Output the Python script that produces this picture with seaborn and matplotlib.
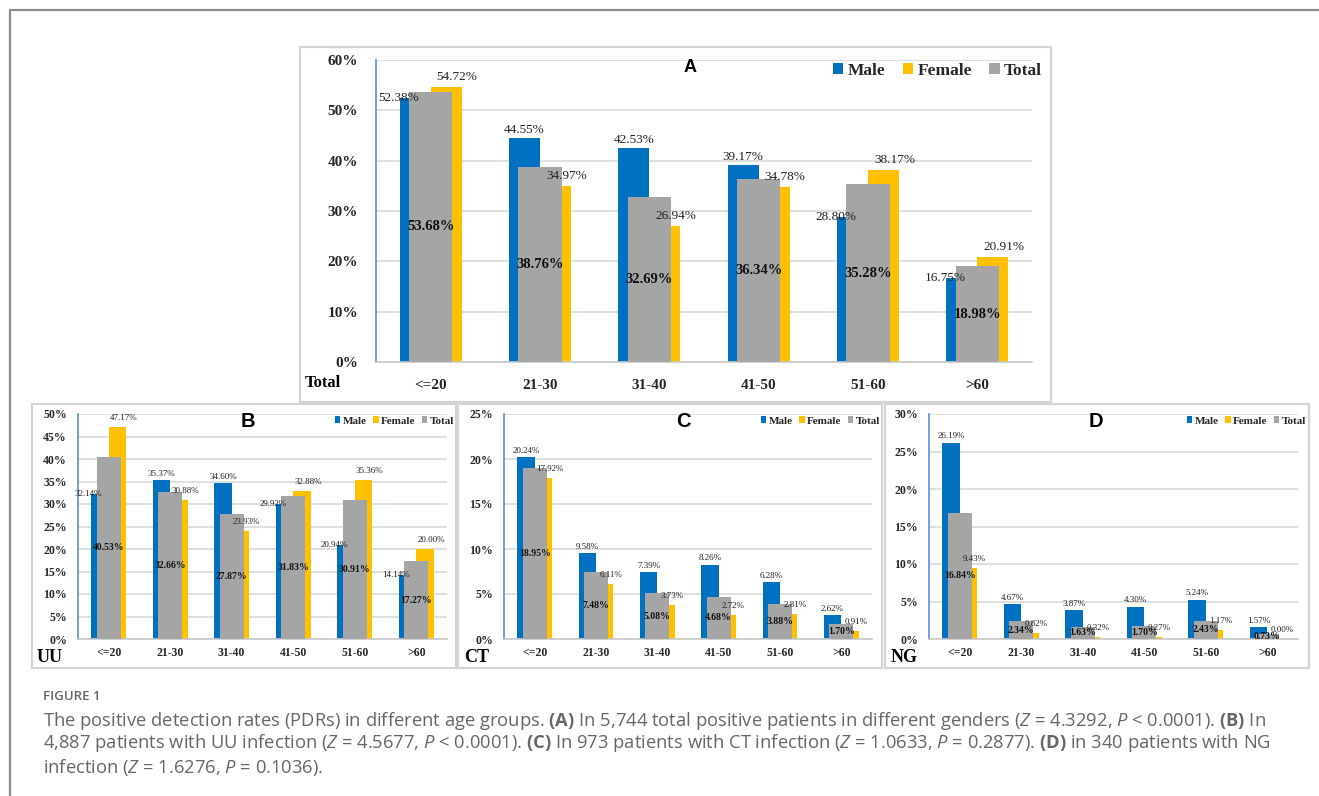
import matplotlib
matplotlib.use("Agg")
import matplotlib.pyplot as plt
from matplotlib.patches import Rectangle, Patch
from matplotlib.ticker import FuncFormatter
import pandas as pd
import seaborn as sns

# ---------------- data ----------------
age_groups = ["<=20", "21-30", "31-40", "41-50", "51-60", ">60"]

total_male = [52.38, 44.55, 42.53, 39.17, 28.80, 16.75]
total_female = [54.72, 34.97, 26.94, 34.78, 38.17, 20.91]
total_total = [53.68, 38.76, 32.69, 36.34, 35.28, 18.98]

uu_male = [32.14, 35.37, 34.60, 29.92, 20.94, 14.14]
uu_female = [47.17, 30.88, 23.93, 32.88, 35.36, 20.00]
uu_total = [40.53, 32.66, 27.87, 31.83, 30.91, 17.27]

ct_male = [20.24, 9.58, 7.39, 8.26, 6.28, 2.62]
ct_female = [17.92, 6.11, 3.73, 2.72, 2.81, 0.91]
ct_total = [18.95, 7.48, 5.08, 4.68, 3.88, 1.70]

ng_male = [26.19, 4.67, 3.87, 4.30, 5.24, 1.57]
ng_female = [9.43, 0.82, 0.32, 0.27, 1.17, 0.00]
ng_total = [16.84, 2.34, 1.63, 1.70, 2.43, 0.73]

series_names = ["Male", "Female", "Total"]

caption_title = "FIGURE 1"

# ---------------- style ----------------
sns.set_theme(style="white")
plt.rcParams["font.family"] = ["Liberation Serif", "DejaVu Serif"]
plt.rcParams["mathtext.fontset"] = "custom"
plt.rcParams["mathtext.rm"] = "Open Sans"
plt.rcParams["mathtext.it"] = "Open Sans:italic"
plt.rcParams["mathtext.bf"] = "Open Sans:bold"

BLUE = "#0070C0"
YELLOW = "#FFC000"
GRAY = "#A5A5A5"
GRID = "#D9D9D9"
FRAME = "#D4D4D4"
SPINE_BLUE = "#5B8FD6"

W, H = 1319, 796
fig = plt.figure(figsize=(W / 100, H / 100), dpi=100)


def px_box(l, t, r, b):
    return [l / W, 1 - b / H, (r - l) / W, (b - t) / H]


# outer frame and panel frames
fig.patches.append(Rectangle((10 / W, -0.05), 1.05, 1 - 10 / H + 0.05,
                             transform=fig.transFigure, fill=False,
                             edgecolor="#8C8C8C", lw=1.6))
for (l, t, r, b) in [(300, 47, 1051, 402), (32, 404, 456, 668),
                     (458, 404, 882, 668), (885, 404, 1309, 668)]:
    fig.patches.append(Rectangle((l / W, 1 - b / H), (r - l) / W, (b - t) / H,
                                 transform=fig.transFigure, fill=False,
                                 edgecolor=FRAME, lw=1.6))


def panel(box, male, female, total, ymax, ystep, big):
    ax = fig.add_axes(px_box(*box))
    df_mf = pd.DataFrame({
        "age": age_groups * 2,
        "rate": list(male) + list(female),
        "sex": ["Male"] * len(age_groups) + ["Female"] * len(age_groups),
    })
    df_t = pd.DataFrame({"age": age_groups, "rate": total})
    pair_w = 0.57
    sns.barplot(data=df_mf, x="age", y="rate", hue="sex", order=age_groups,
                hue_order=["Male", "Female"], palette=[BLUE, YELLOW],
                width=pair_w, dodge=True, saturation=1, legend=False,
                errorbar=None, ax=ax, zorder=2, linewidth=0, edgecolor="none")
    sns.barplot(data=df_t, x="age", y="rate", order=age_groups, color=GRAY,
                width=0.395, saturation=1, errorbar=None, ax=ax, zorder=3,
                linewidth=0, edgecolor="none")
    ax.set_xlim(-0.5, 5.5)
    ax.set_ylim(0, ymax)
    ticks = [ystep * k for k in range(int(round(ymax / ystep)) + 1)]
    ax.set_yticks(ticks)
    ax.yaxis.set_major_formatter(FuncFormatter(lambda v, p: f"{v:.0f}%"))
    ax.grid(axis="y", color=GRID, lw=1.2, zorder=0)
    ax.set_axisbelow(True)
    ax.set_xlabel("")
    ax.set_ylabel("")
    for s in ["top", "right"]:
        ax.spines[s].set_visible(False)
    ax.spines["left"].set_color(SPINE_BLUE)
    ax.spines["left"].set_linewidth(1.2)
    ax.spines["bottom"].set_color("#C8C8C8")
    ax.spines["bottom"].set_linewidth(1.2)
    ax.tick_params(length=0)

    tick_fs = 11 if big else 8.5
    lab_fs = 9.5 if big else 6.5
    tot_fs = 10.5 if big else 7
    ax.tick_params(axis="y", pad=13 if big else 8, labelsize=tick_fs)
    ax.tick_params(axis="x", pad=12 if big else 6, labelsize=tick_fs)
    for t in ax.get_xticklabels() + ax.get_yticklabels():
        t.set_fontweight("bold")

    off = pair_w / 4
    dy = ymax * (0.006 if big else 0.01)
    for i in range(len(age_groups)):
        m, f, tt = male[i], female[i], total[i]
        if m >= tt:
            ax.text(i - off, m + dy, f"{m:.2f}%", ha="center", va="bottom",
                    fontsize=lab_fs, color="#222222", zorder=5)
        else:
            ax.text(i - off + 0.04, m, f"{m:.2f}%", ha="right", va="center",
                    fontsize=lab_fs, color="#222222", zorder=5)
        ax.text(i + off + 0.1, f + dy * 2.2, f"{f:.2f}%", ha="center",
                va="bottom", fontsize=lab_fs, color="#222222", zorder=5)
        ax.text(i, tt / 2, f"{tt:.2f}%", ha="center", va="center",
                fontsize=tot_fs, fontweight="bold", color="#111111", zorder=6)

    handles = [Patch(facecolor=c, edgecolor="none") for c in (BLUE, YELLOW, GRAY)]
    return ax, handles


axA, hA = panel((376, 60, 1032, 362), total_male, total_female, total_total, 60, 10, True)
axB, hB = panel((78, 414, 447, 639), uu_male, uu_female, uu_total, 50, 5, False)
axC, hC = panel((504, 414, 872, 639), ct_male, ct_female, ct_total, 25, 5, False)
axD, hD = panel((929, 414, 1298, 639), ng_male, ng_female, ng_total, 30, 5, False)

# legends
fig.legend(hA, series_names, loc="center right", bbox_to_anchor=(1042 / W, 1 - 71 / H),
           ncol=3, frameon=False, handlelength=0.6, handleheight=0.6,
           handletextpad=0.25, columnspacing=1.0, borderpad=0, borderaxespad=0,
           prop={"family": "Liberation Serif", "weight": "bold", "size": 12.5})
for h, rx in [(hB, 454), (hC, 880), (hD, 1306)]:
    fig.legend(h, series_names, loc="center right", bbox_to_anchor=(rx / W, 1 - 421 / H),
               ncol=3, frameon=False, handlelength=0.5, handleheight=0.5,
               handletextpad=0.2, columnspacing=0.6, borderpad=0, borderaxespad=0,
               prop={"family": "Liberation Serif", "weight": "bold", "size": 8})

# panel letters
for txt, x, y, fs in [("A", 690, 68, 13), ("B", 248, 421, 14.5), ("C", 683, 421, 14.5), ("D", 1096, 421, 14.5)]:
    fig.text(x / W, 1 - y / H, txt, ha="center", va="center", fontsize=fs,
             fontweight="bold", family="Liberation Sans", color="black")

# panel corner labels
for txt, x, y, fs in [("Total", 305, 383, 12), ("UU", 37, 657, 13), ("CT", 464, 657, 13), ("NG", 891, 657, 13)]:
    fig.text(x / W, 1 - y / H, txt, ha="left", va="center", fontsize=fs,
             fontweight="bold", color="black")

# caption
cap_kw = dict(ha="left", va="center", family="Open Sans", color="#666666")
fig.text(43 / W, 1 - 697 / H, caption_title, fontsize=9.5, fontweight="semibold", **cap_kw)
line1 = (r"The positive detection rates (PDRs) in different age groups. $\mathbf{(A)}$ In 5,744 total "
         r"positive patients in different genders ($Z$ = 4.3292, $P$ < 0.0001). $\mathbf{(B)}$ In")
line2 = (r"4,887 patients with UU infection ($Z$ = 4.5677, $P$ < 0.0001). $\mathbf{(C)}$ In 973 patients "
         r"with CT infection ($Z$ = 1.0633, $P$ = 0.2877). $\mathbf{(D)}$ in 340 patients with NG")
line3 = r"infection ($Z$ = 1.6276, $P$ = 0.1036)."
for ln, y in [(line1, 721), (line2, 743), (line3, 767)]:
    fig.text(43 / W, 1 - y / H, ln, fontsize=13.2, **cap_kw)

fig.savefig("out.png", dpi=100, facecolor="white")
